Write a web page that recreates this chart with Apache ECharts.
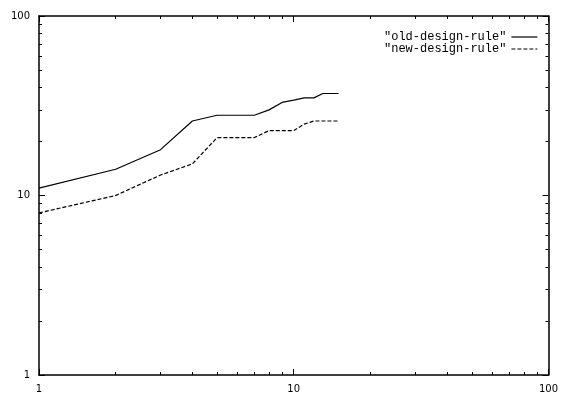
<!DOCTYPE html>
<html><head><meta charset="utf-8">
<script src="https://cdn.jsdelivr.net/npm/echarts@6/dist/echarts.min.js"></script>
<style>html,body{margin:0;padding:0;background:#fff}#c{width:561px;height:394px}</style>
</head><body><div id="c"></div>
<script>
const xValues = [1,2,3,4,5,6,7,8,9,10,11,12,13,14,15];
const oldDesignRule = [11,14,18,26,28,28,28,30,33,34,35,35,37,37,37];
const newDesignRule = [8,10,13,15,21,21,21,23,23,23,25,26,26,26,26];
const majorTicks = [1,10,100];
const minorTicks = [2,3,4,5,6,7,8,9,20,30,40,50,60,70,80,90];
const tickLabels = [1,10,100];
const seriesNames = ['"old-design-rule"','"new-design-rule"'];

function makeAxis(pos, ticks, len, labels, line) {
  return {
    type: 'log', logBase: 10, min: 1, max: 100, position: pos,
    axisLine: { show: line, lineStyle: { color: '#000', width: 1.5 } },
    axisTick: { show: true, inside: true, length: len, customValues: ticks,
      lineStyle: { color: '#000', width: 1 } },
    axisLabel: { show: labels, customValues: tickLabels, color: '#000', fontSize: 10,
      fontFamily: 'DejaVu Sans', margin: 9, showMinLabel: true, showMaxLabel: true },
    splitLine: { show: false }, minorTick: { show: false }
  };
}

const chart = echarts.init(document.getElementById('c'), null, { renderer: 'canvas' });
chart.setOption({
  animation: false,
  backgroundColor: '#fff',
  grid: { left: 39, right: 10, top: 16, bottom: 16.5, containLabel: false },
  legend: {
    orient: 'vertical', right: 18, top: 26, align: 'right',
    itemWidth: 26, itemHeight: 11, itemGap: 0,
    itemStyle: { opacity: 0 },
    lineStyle: { width: 1.2 },
    textStyle: { color: '#000', fontFamily: 'Liberation Mono', fontSize: 12, lineHeight: 11 },
    data: seriesNames
  },
  xAxis: [
    makeAxis('bottom', majorTicks, 6, true, true),
    makeAxis('bottom', minorTicks, 3, false, false),
    makeAxis('top', majorTicks, 6, false, true),
    makeAxis('top', minorTicks, 3, false, false)
  ],
  yAxis: [
    makeAxis('left', majorTicks, 6, true, true),
    makeAxis('left', minorTicks, 3, false, false),
    makeAxis('right', majorTicks, 6, false, true),
    makeAxis('right', minorTicks, 3, false, false)
  ],
  series: [
    { name: seriesNames[0], type: 'line', symbol: 'none', xAxisIndex: 0, yAxisIndex: 0,
      lineStyle: { color: '#000', width: 1.2, type: 'solid' }, itemStyle: { color: '#000' },
      data: xValues.map((x, i) => [x, oldDesignRule[i]]) },
    { name: seriesNames[1], type: 'line', symbol: 'none', xAxisIndex: 0, yAxisIndex: 0,
      lineStyle: { color: '#000', width: 1.2, type: [4, 2] }, itemStyle: { color: '#000' },
      data: xValues.map((x, i) => [x, newDesignRule[i]]) }
  ]
});
</script></body></html>
